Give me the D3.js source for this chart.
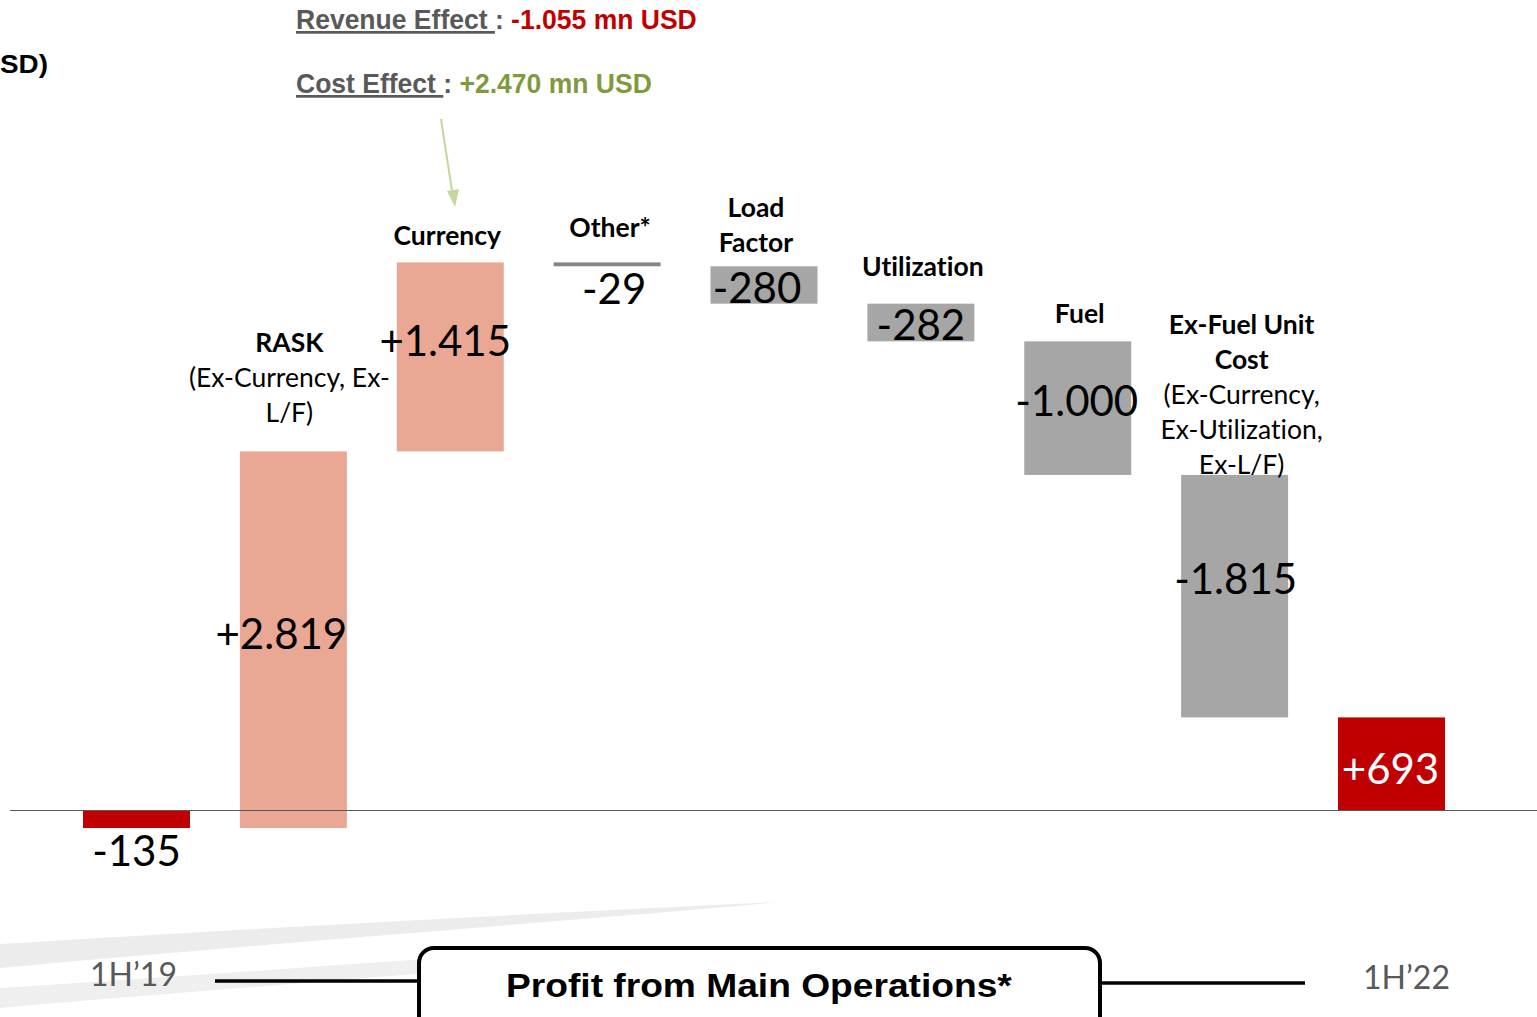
<!DOCTYPE html>
<html>
<head>
<meta charset="utf-8">
<script src="https://cdn.jsdelivr.net/npm/d3@7"></script>
<style>
  html, body { margin: 0; padding: 0; background: #fff; overflow: hidden; }
  svg { display: block; }
  text { font-variant-ligatures: none; }
</style>
</head>
<body>
<svg id="chart" width="1537" height="1017"></svg>
<script>
// ---------- data ----------
const categories = ["1H'19", "RASK", "Currency", "Other*", "Load Factor", "Utilization", "Fuel", "Ex-Fuel Unit Cost", "1H'22"];
const values = [-135, 2819, 1415, -29, -280, -282, -1000, -1815, 693];
const kinds = ["total", "up", "up", "down", "down", "down", "down", "down", "total"];
const valueLabels = ["-135", "+2.819", "+1.415", "-29", "-280", "-282", "-1.000", "-1.815", "+693"];
const categoryLines = [
  [],
  [["RASK", true], ["(Ex-Currency, Ex-", false], ["L/F)", false]],
  [["Currency", true]],
  [["Other*", true]],
  [["Load", true], ["Factor", true]],
  [["Utilization", true]],
  [["Fuel", true]],
  [["Ex-Fuel Unit", true], ["Cost", true], ["(Ex-Currency,", false], ["Ex-Utilization,", false], ["Ex-L/F)", false]],
  []
];
const periodStart = "1H\u201919";
const periodEnd = "1H\u201922";
const revenueEffect = "-1.055 mn USD";
const costEffect = "+2.470 mn USD";
const boxTitle = "Profit from Main Operations*";
const unitTitle = "SD)";

// ---------- layout / style (not data) ----------
const colors = { total: "#C00000", up: "#EAA794", down: "#A6A6A6", other: "#858585" };
const catGap = [0, 39, 27, 35, 24, 38, 28, 11, 0];
const catDx = [0, -4, -3, 3, -8, 2, 2, 7, 0];
const valDy = [31, -7, -17, 24, 2, 1, -8, -18, 4];
const valDx = [0, -12, -5, 7, -7, 0, -1, 1, -1];

// ---------- compute waterfall ----------
let cum = 0;
const bars = values.map((v, i) => {
  let a, b;
  if (kinds[i] === "total") { a = 0; b = v; cum = v; }
  else { a = cum; b = cum + v; cum = b; }
  return { i, cat: categories[i], v, a, b, kind: kinds[i] };
});
const maxCum = d3.max(bars, d => Math.max(d.a, d.b));

const svg = d3.select("#chart");

const x = d3.scaleBand().domain(categories).range([83, 1445]).paddingInner(0.318).paddingOuter(0);
const y = d3.scaleLinear().domain([0, maxCum]).range([810, 262.4]);

// ---------- background swooshes ----------
const sw = svg.append("g");
sw.append("path")
  .attr("d", "M0,944 C260,928 560,912 780,902 C560,922 260,944 0,968 Z")
  .attr("fill", "#ececec");
sw.append("path")
  .attr("d", "M0,988 C160,978 320,966 440,958 L440,972 C320,982 160,994 0,1008 Z")
  .attr("fill", "#efefef");

// ---------- bars ----------
svg.append("g").selectAll("rect").data(bars).join("rect")
  .attr("x", d => x(d.cat))
  .attr("width", x.bandwidth())
  .attr("y", d => y(Math.max(d.a, d.b)))
  .attr("height", d => Math.max(1, Math.abs(y(d.a) - y(d.b))))
  .attr("fill", d => d.cat === "Other*" ? colors.other : colors[d.kind]);

// baseline
svg.append("line")
  .attr("x1", 10).attr("x2", 1537)
  .attr("y1", y(0) + 0.5).attr("y2", y(0) + 0.5)
  .attr("stroke", "#5a5a5a").attr("stroke-width", 1.2);

// ---------- value labels ----------
svg.append("g").selectAll("text").data(bars).join("text")
  .attr("x", d => x(d.cat) + x.bandwidth() / 2 + valDx[d.i])
  .attr("y", d => (y(d.a) + y(d.b)) / 2 + valDy[d.i])
  .attr("text-anchor", "middle")
  .attr("dominant-baseline", "central")
  .attr("font-family", "Lato, 'Open Sans', sans-serif")
  .attr("font-size", 42)
  .attr("fill", d => d.i === bars.length - 1 ? "#fff" : "#000")
  .text(d => valueLabels[d.i]);

// ---------- category labels ----------
const lineH = 35;
const catG = svg.append("g");
bars.forEach(d => {
  const lines = categoryLines[d.i];
  if (!lines.length) return;
  const top = y(Math.max(d.a, d.b));
  const lastY = top - catGap[d.i];
  const cx = x(d.cat) + x.bandwidth() / 2 + catDx[d.i];
  lines.forEach((ln, k) => {
    catG.append("text")
      .attr("x", cx)
      .attr("y", lastY - (lines.length - 1 - k) * lineH)
      .attr("text-anchor", "middle")
      .attr("dominant-baseline", "central")
      .attr("font-family", "Lato, 'Open Sans', sans-serif")
      .attr("font-size", 26.5)
      .attr("font-weight", ln[1] ? 700 : 400)
      .attr("fill", "#000")
      .text(ln[0]);
  });
});

// helper: squeeze text horizontally to a target width
function fitWidth(sel, x0, target) {
  const w = sel.node().getComputedTextLength();
  const s = target / w;
  sel.attr("transform", `translate(${x0},0) scale(${s},1) translate(${-x0},0)`);
}

// ---------- top annotations ----------
const narrow = "'Liberation Sans Narrow', 'Arial Narrow', 'Liberation Sans', Arial, sans-serif";
const rev = svg.append("text").attr("x", 296).attr("y", 29)
  .attr("font-family", narrow).attr("font-size", 27).attr("font-weight", 700);
rev.append("tspan").attr("fill", "#595959").attr("text-decoration", "underline").text("Revenue Effect ");
rev.append("tspan").attr("fill", "#595959").text(": ");
rev.append("tspan").attr("fill", "#C00000").text(revenueEffect);
fitWidth(rev, 296, 401);

const cost = svg.append("text").attr("x", 296).attr("y", 93)
  .attr("font-family", narrow).attr("font-size", 27).attr("font-weight", 700);
cost.append("tspan").attr("fill", "#595959").attr("text-decoration", "underline").text("Cost Effect ");
cost.append("tspan").attr("fill", "#595959").text(": ");
cost.append("tspan").attr("fill", "#7F9A3C").text(costEffect);
fitWidth(cost, 296, 356);

// title fragment on left
const ut = svg.append("text").attr("x", 0).attr("y", 73)
  .attr("font-family", "'Liberation Sans', Arial, sans-serif").attr("font-size", 26).attr("font-weight", 700)
  .attr("fill", "#000").text(unitTitle);
fitWidth(ut, 0, 48);

// arrow
const arrowColor = "#C4D89E";
svg.append("line").attr("x1", 441).attr("y1", 119).attr("x2", 452.5).attr("y2", 194)
  .attr("stroke", arrowColor).attr("stroke-width", 2);
svg.append("path").attr("d", "M447,191 L459,189 L455,207 Z").attr("fill", arrowColor);

// ---------- bottom timeline ----------
const p1 = svg.append("text").attr("x", 90).attr("y", 986)
  .attr("font-family", "Lato, 'Open Sans', sans-serif").attr("font-size", 33).attr("font-weight", 400)
  .attr("fill", "#595959").text(periodStart);
fitWidth(p1, 90, 87);
const p2 = svg.append("text").attr("x", 1363).attr("y", 989)
  .attr("font-family", "Lato, 'Open Sans', sans-serif").attr("font-size", 33).attr("font-weight", 400)
  .attr("fill", "#595959").text(periodEnd);
fitWidth(p2, 1363, 87);

svg.append("line").attr("x1", 215).attr("x2", 420).attr("y1", 981).attr("y2", 981)
  .attr("stroke", "#000").attr("stroke-width", 3.5);
svg.append("line").attr("x1", 1100).attr("x2", 1305).attr("y1", 983).attr("y2", 983)
  .attr("stroke", "#000").attr("stroke-width", 3.5);
svg.append("rect").attr("x", 419).attr("y", 948).attr("width", 681).attr("height", 90)
  .attr("rx", 15).attr("ry", 15)
  .attr("fill", "#fff").attr("stroke", "#000").attr("stroke-width", 4);
const bt = svg.append("text").attr("x", 506).attr("y", 997)
  .attr("font-family", "'Liberation Sans', Arial, sans-serif").attr("font-size", 34).attr("font-weight", 700)
  .attr("fill", "#000").text(boxTitle);
fitWidth(bt, 506, 506);
</script>
</body>
</html>
